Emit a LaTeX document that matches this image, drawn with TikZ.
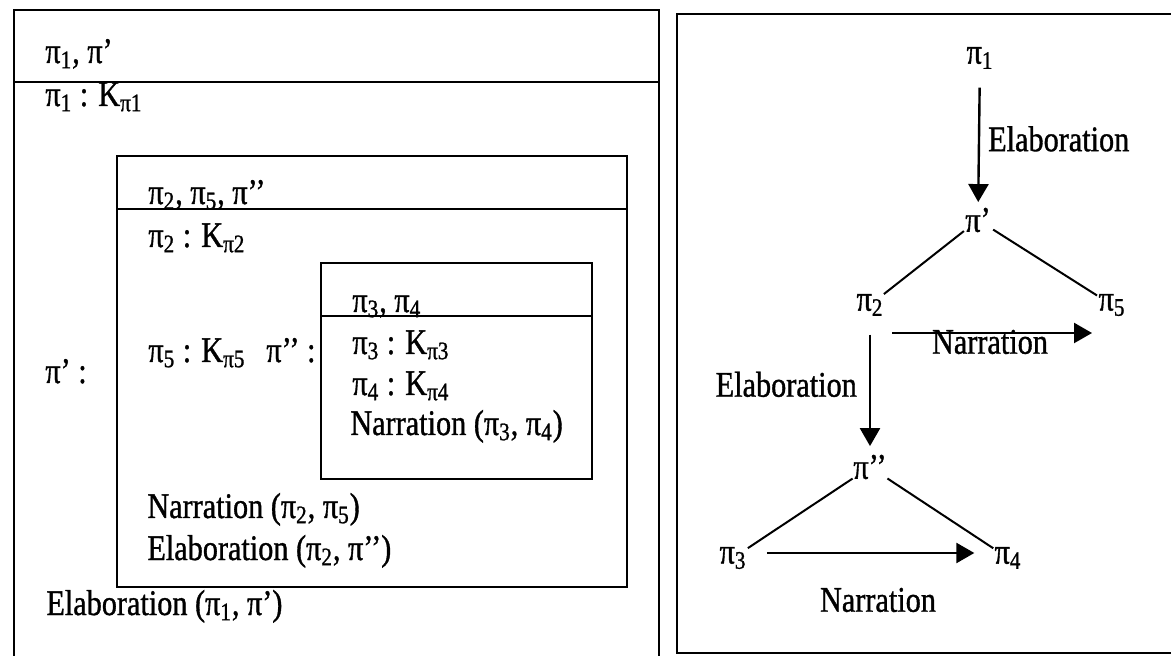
\documentclass[tikz,border=0pt]{standalone}
\usepackage{fontspec}
\setmainfont[FakeStretch=0.84,FakeBold=1]{Liberation Serif}
\usetikzlibrary{arrows.meta}

\begin{document}
\begin{tikzpicture}[x=0.5pt,y=-0.5pt,
    every node/.style={font=\fontsize{18}{21}\selectfont},
    txt/.style={anchor=base west,inner sep=0pt},
    frame/.style={line width=1.4pt},
    leaf/.style={circle,inner sep=0pt},
    arr/.style={line width=1.2pt,-{Triangle[length=9pt,width=10pt]}}]
    \useasboundingbox (0,0) rectangle (1171,656);

    % 左侧：外层框
    \draw[frame] (14,656) -- (14,10) -- (659,10) -- (659,656);
    \draw[frame] (14,82) -- (659,82);
    \node[txt] (o1) at (45,63) {π\textsubscript{1}, π’};
    \node[txt] (o2) at (45,106) {π\textsubscript{1} : K\textsubscript{π1}};
    \node[txt] (o3) at (45,383) {π’ :};
    \node[txt] (o4) at (46,615) {Elaboration (π\textsubscript{1}, π’)};

    % 中间框
    \draw[frame] (117,156) rectangle (627,587);
    \draw[frame] (117,209) -- (627,209);
    \node[txt] (m1) at (148,204) {π\textsubscript{2}, π\textsubscript{5}, π’’};
    \node[txt] (m2) at (148,247) {π\textsubscript{2} : K\textsubscript{π2}};
    \node[txt] (m3) at (148,362) {π\textsubscript{5} : K\textsubscript{π5}};
    \node[txt] (m4) at (266,362) {π’’ :};
    \node[txt] (m5) at (147,518) {Narration (π\textsubscript{2}, π\textsubscript{5})};
    \node[txt] (m6) at (147,560) {Elaboration (π\textsubscript{2}, π’’)};

    % 内层框
    \draw[frame] (321,263) rectangle (592,479);
    \draw[frame] (321,316) -- (592,316);
    \node[txt] (i1) at (352,312) {π\textsubscript{3}, π\textsubscript{4}};
    \node[txt] (i2) at (352,354) {π\textsubscript{3} : K\textsubscript{π3}};
    \node[txt] (i3) at (352,395) {π\textsubscript{4} : K\textsubscript{π4}};
    \node[txt] (i4) at (350,435) {Narration (π\textsubscript{3}, π\textsubscript{4})};

    % 右侧：树
    \draw[frame] (1175,14) -- (677,14) -- (677,653) -- (1175,653);
    \node[leaf] (p1) at (980,58) {π\textsubscript{1}};
    \node[leaf] (pp) at (978,220) {π’};
    \node[leaf] (p2) at (870,305) {π\textsubscript{2}};
    \node[leaf] (p5) at (1112,305) {π\textsubscript{5}};
    \node[leaf] (ppp) at (870,467) {π’’};
    \node[leaf] (p3) at (733,558) {π\textsubscript{3}};
    \node[leaf] (p4) at (1008,558) {π\textsubscript{4}};
    \coordinate (n1) at (892,333);
    \coordinate (n2) at (1092,333);

    \draw[arr,shorten <=6pt] (p1) -- node[right,inner sep=4pt] {Elaboration} (pp);
    \draw[line width=1pt] (pp) -- (p2);
    \draw[line width=1pt] (pp) -- (p5);
    \draw[arr] (n1) -- (n2);
    \node (nar1) at (990,342) {Narration};
    \draw[arr,shorten <=6pt] (p2) -- node[left,inner sep=6pt] {Elaboration} (ppp);
    \draw[line width=1pt] (ppp) -- (p3);
    \draw[line width=1pt] (ppp) -- (p4);
    \draw[arr] ([xshift=8pt,yshift=2.5pt]p3.east) -- ([xshift=-8pt,yshift=2.5pt]p4.west);
    \node (nar2) at (878,600) {Narration};
\end{tikzpicture}
\end{document}
